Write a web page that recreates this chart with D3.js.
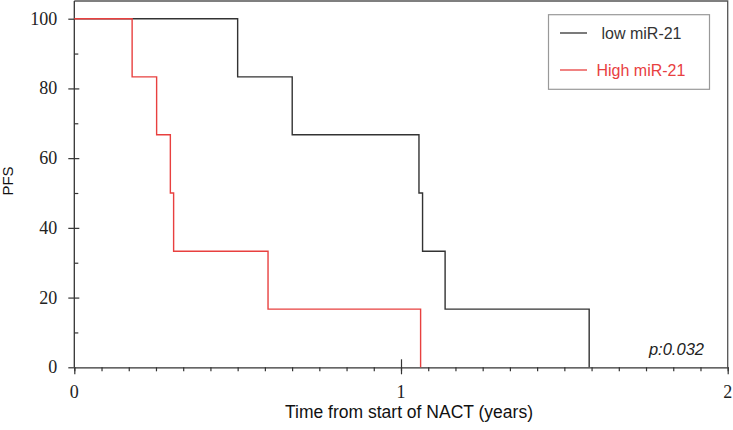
<!DOCTYPE html>
<html>
<head>
<meta charset="utf-8">
<script src="https://cdn.jsdelivr.net/npm/d3@7"></script>
<style>
  body { margin: 0; background: #fff; }
</style>
</head>
<body>
<div id="chart"></div>
<script>
/* DATA */
const lowTimes = [0, 0.5, 0.667, 1.055, 1.066, 1.135, 1.576];
const lowPFS = [100, 83.3, 66.7, 50, 33.3, 16.7, 0];
const highTimes = [0, 0.177, 0.252, 0.294, 0.304, 0.593, 1.06];
const highPFS = [100, 83.3, 66.7, 50, 33.3, 16.7, 0];
const seriesNames = ["low miR-21", "High miR-21"];
const xMajor = [0, 1, 2];
const yMajor = [0, 20, 40, 60, 80, 100];
const pValue = "p:0.032";

/* CONSTANTS */
const width = 733,
  height = 430,
  margin = { top: 1, left: 74.3, right: 5.3, bottom: 62.7 };
const black = "#333", red = "#e8403f";
const serif = "Liberation Serif";
const sans = "Liberation Sans";

const svg = d3.select("#chart").append("svg")
  .attr("width", width)
  .attr("height", height);

// scales
const xScale = d3.scaleLinear().domain([0, 2]).range([margin.left, width - margin.right]);
const yScale = d3.scaleLinear().domain([0, 100]).range([height - margin.bottom, 18.7]);
const y0 = yScale(0);

// frame (top + right)
svg.append("path")
  .attr("d", `M${margin.left},${margin.top}H${xScale(2)}V${y0}`)
  .attr("fill", "none")
  .attr("stroke", "#555")
  .attr("stroke-width", 1.3);

// minor x ticks (monthly)
const xMinor = d3.range(0, 25).map(i => i / 12);
svg.append("g")
  .attr("transform", `translate(0,${y0})`)
  .call(d3.axisBottom(xScale).tickValues(xMinor).tickSize(4).tickFormat(""))
  .call(g => g.select(".domain").remove());

// major x ticks
svg.append("g")
  .attr("transform", `translate(0,${y0})`)
  .call(d3.axisBottom(xScale).tickValues(xMajor).tickSize(7).tickSizeOuter(0).tickFormat(""))
  .call(g => g.select(".domain").attr("stroke", black).attr("stroke-width", 1.3));

// the inner part of the middle tick
svg.append("g")
  .attr("transform", `translate(0,${y0})`)
  .call(d3.axisTop(xScale).tickValues([1]).tickSize(8).tickFormat(""))
  .call(g => g.select(".domain").remove());

// minor y ticks (inside)
svg.append("g")
  .attr("transform", `translate(${margin.left},0)`)
  .call(d3.axisRight(yScale).tickValues([10, 30, 50, 70, 90]).tickSize(4).tickFormat(""))
  .call(g => g.select(".domain").remove());

// major y ticks inside part
svg.append("g")
  .attr("transform", `translate(${margin.left},0)`)
  .call(d3.axisRight(yScale).tickValues([20, 40, 60, 80]).tickSize(5).tickFormat(""))
  .call(g => g.select(".domain").remove());

// major y ticks
svg.append("g")
  .attr("transform", `translate(${margin.left},0)`)
  .call(d3.axisLeft(yScale).tickValues(yMajor).tickSize(6).tickFormat(""))
  .call(g => g.select(".domain").remove());

// tick labels
svg.append("g")
  .selectAll("text")
  .data(xMajor)
  .join("text")
  .attr("x", d => xScale(d))
  .attr("y", y0 + 31)
  .attr("text-anchor", "middle")
  .attr("font-family", serif)
  .attr("font-size", 18)
  .attr("fill", "#222")
  .text(d => d);

svg.append("g")
  .selectAll("text")
  .data(yMajor)
  .join("text")
  .attr("x", margin.left - 17)
  .attr("y", d => yScale(d) + 6)
  .attr("text-anchor", "end")
  .attr("font-family", serif)
  .attr("font-size", 18)
  .attr("fill", "#222")
  .text(d => d);

// left spine up to frame top
svg.append("line")
  .attr("x1", margin.left).attr("x2", margin.left)
  .attr("y1", margin.top).attr("y2", y0)
  .attr("stroke", black).attr("stroke-width", 1.3);

svg.selectAll(".tick line").attr("stroke", black).attr("stroke-width", 1.2);

// step curves
const line = d3.line()
  .x(d => xScale(d[0]))
  .y(d => yScale(d[1]))
  .curve(d3.curveStepAfter);

svg.append("path")
  .datum(d3.zip(lowTimes, lowPFS))
  .attr("d", line)
  .attr("fill", "none")
  .attr("stroke", black)
  .attr("stroke-width", 1.4);

svg.append("path")
  .datum(d3.zip(highTimes, highPFS))
  .attr("d", line)
  .attr("fill", "none")
  .attr("stroke", red)
  .attr("stroke-width", 1.4);

// axis titles
svg.append("text")
  .attr("x", 409)
  .attr("y", 418)
  .attr("text-anchor", "middle")
  .attr("font-family", sans)
  .attr("font-size", 17.5)
  .attr("fill", "#111")
  .text("Time from start of NACT (years)");

svg.append("text")
  .attr("transform", "translate(13,181) rotate(-90)")
  .attr("text-anchor", "middle")
  .attr("font-family", sans)
  .attr("font-size", 15)
  .attr("fill", "#111")
  .text("PFS");

// legend
const legend = svg.append("g");
legend.append("rect")
  .attr("x", 548.5).attr("y", 14.7)
  .attr("width", 161).attr("height", 74.6)
  .attr("fill", "#fff")
  .attr("stroke", "#999")
  .attr("stroke-width", 1.2);

const legendColors = [black, red];
const legendY = [33, 70];
const legendTextX = [601.5, 596.5];
seriesNames.forEach((name, i) => {
  legend.append("line")
    .attr("x1", 560).attr("x2", 587)
    .attr("y1", legendY[i]).attr("y2", legendY[i])
    .attr("stroke", legendColors[i])
    .attr("stroke-width", 1.3);
  legend.append("text")
    .attr("x", legendTextX[i])
    .attr("y", legendY[i] + 5.5)
    .attr("font-family", sans)
    .attr("font-size", 16)
    .attr("fill", legendColors[i])
    .text(name);
});

// p value
svg.append("text")
  .attr("x", 704)
  .attr("y", 355)
  .attr("text-anchor", "end")
  .attr("font-family", sans)
  .attr("font-size", 16.5)
  .attr("font-style", "italic")
  .attr("fill", "#222")
  .text(pValue);
</script>
</body>
</html>
